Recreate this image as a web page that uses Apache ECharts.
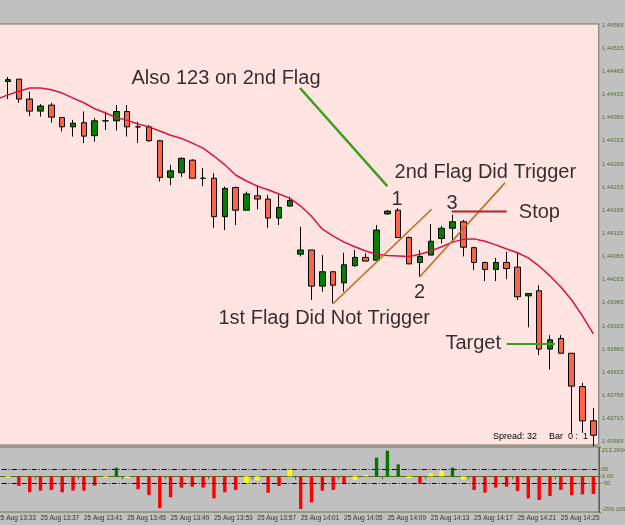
<!DOCTYPE html>
<html>
<head>
<meta charset="utf-8">
<script src="https://cdn.jsdelivr.net/npm/echarts@6/dist/echarts.min.js"></script>
<style>
  html, body { margin: 0; padding: 0; background: #c0c0c0; }
  #chart { width: 625px; height: 525px; }
</style>
</head>
<body>
<div id="chart"></div>
<script>
// 1 minute bars, 25 Aug 13:33 .. 14:28
var times = [
  "25 Aug 13:33", "25 Aug 13:34", "25 Aug 13:35", "25 Aug 13:36", "25 Aug 13:37", "25 Aug 13:38", "25 Aug 13:39", "25 Aug 13:40",
  "25 Aug 13:41", "25 Aug 13:42", "25 Aug 13:43", "25 Aug 13:44", "25 Aug 13:45", "25 Aug 13:46", "25 Aug 13:47", "25 Aug 13:48",
  "25 Aug 13:49", "25 Aug 13:50", "25 Aug 13:51", "25 Aug 13:52", "25 Aug 13:53", "25 Aug 13:54", "25 Aug 13:55", "25 Aug 13:56",
  "25 Aug 13:57", "25 Aug 13:58", "25 Aug 13:59", "25 Aug 14:00", "25 Aug 14:01", "25 Aug 14:02", "25 Aug 14:03", "25 Aug 14:04",
  "25 Aug 14:05", "25 Aug 14:06", "25 Aug 14:07", "25 Aug 14:08", "25 Aug 14:09", "25 Aug 14:10", "25 Aug 14:11", "25 Aug 14:12",
  "25 Aug 14:13", "25 Aug 14:14", "25 Aug 14:15", "25 Aug 14:16", "25 Aug 14:17", "25 Aug 14:18", "25 Aug 14:19", "25 Aug 14:20",
  "25 Aug 14:21", "25 Aug 14:22", "25 Aug 14:23", "25 Aug 14:24", "25 Aug 14:25", "25 Aug 14:26", "25 Aug 14:27", "25 Aug 14:28"
];

var openP = [
  1.44442, 1.44443, 1.44448, 1.44405, 1.44379, 1.44392, 1.44365, 1.44345, 1.44354, 1.44326,
  1.44358, 1.44358, 1.44378, 1.44345, 1.44345, 1.44315, 1.44236, 1.44246, 1.44273, 1.44234,
  1.44234, 1.44151, 1.44214, 1.44165, 1.44196, 1.44189, 1.44148, 1.44174, 1.44070, 1.44079,
  1.44001, 1.44032, 1.44008, 1.44045, 1.44063, 1.44057, 1.44157, 1.44165, 1.44106, 1.44052,
  1.44068, 1.44104, 1.44126, 1.44140, 1.44084, 1.44052, 1.44037, 1.44052, 1.44042, 1.43980,
  1.43991, 1.43865, 1.43888, 1.43856, 1.43784, 1.43710
];
var closeP = [
  1.44479, 1.44447, 1.44405, 1.44379, 1.44390, 1.44366, 1.44345, 1.44353, 1.44325, 1.44358,
  1.44358, 1.44378, 1.44345, 1.44345, 1.44315, 1.44236, 1.44250, 1.44277, 1.44234, 1.44234,
  1.44151, 1.44212, 1.44165, 1.44200, 1.44189, 1.44148, 1.44171, 1.44186, 1.44079, 1.44001,
  1.44032, 1.44003, 1.44047, 1.44063, 1.44055, 1.44122, 1.44163, 1.44106, 1.44049, 1.44065,
  1.44098, 1.44126, 1.44140, 1.44085, 1.44052, 1.44037, 1.44052, 1.44039, 1.43978, 1.43985,
  1.43865, 1.43885, 1.43856, 1.43785, 1.43710, 1.43679
];
var lowP = [
  1.44429, 1.44405, 1.44397, 1.44368, 1.44367, 1.44354, 1.44335, 1.44324, 1.44310, 1.44313,
  1.44338, 1.44337, 1.44324, 1.44310, 1.44313, 1.44227, 1.44219, 1.44237, 1.44234, 1.44217,
  1.44127, 1.44122, 1.44133, 1.44165, 1.44167, 1.44127, 1.44133, 1.44173, 1.44065, 1.43971,
  1.43989, 1.43964, 1.43989, 1.44043, 1.44055, 1.44057, 1.44155, 1.44106, 1.44049, 1.44021,
  1.44068, 1.44093, 1.44097, 1.44065, 1.44036, 1.44012, 1.44012, 1.44016, 1.43971, 1.43912,
  1.43852, 1.43821, 1.43856, 1.43684, 1.43684, 1.43655
];
var highP = [
  1.44489, 1.44453, 1.44448, 1.44421, 1.44394, 1.44397, 1.44366, 1.44360, 1.44378, 1.44364,
  1.44378, 1.44392, 1.44392, 1.44356, 1.44349, 1.44317, 1.44263, 1.44279, 1.44275, 1.44256,
  1.44245, 1.44216, 1.44216, 1.44205, 1.44219, 1.44198, 1.44198, 1.44194, 1.44129, 1.44079,
  1.44068, 1.44032, 1.44073, 1.44079, 1.44072, 1.44133, 1.44165, 1.44169, 1.44108, 1.44079,
  1.44135, 1.44131, 1.44155, 1.44144, 1.44086, 1.44054, 1.44062, 1.44075, 1.44075, 1.43985,
  1.44003, 1.43895, 1.43895, 1.43856, 1.43792, 1.43738
];
// moving average drawn on the price panel
var maP = [
  1.44405, 1.44414, 1.44422, 1.44429, 1.44429, 1.44425, 1.44418, 1.44407, 1.44397, 1.44384,
  1.44375, 1.44365, 1.44359, 1.44351, 1.44345, 1.44336, 1.44327, 1.44320, 1.44310, 1.44299,
  1.44282, 1.44263, 1.44241, 1.44228, 1.44217, 1.44209, 1.44200, 1.44191, 1.44174, 1.44152,
  1.44124, 1.44109, 1.44096, 1.44086, 1.44077, 1.44070, 1.44067, 1.44066, 1.44065, 1.44070,
  1.44077, 1.44086, 1.44096, 1.44102, 1.44103, 1.44098, 1.44090, 1.44081, 1.44073, 1.44062,
  1.44044, 1.44023, 1.43999, 1.43971, 1.43936, 1.43898
];
// oscillator histogram (lower panel)
var oscValues = [
  null, -10, -70, -116, -104, -99, -116, -104, -104, -68,
  -10, 63, -10, -94, -136, -232, -152, -82, -75, -82,
  -160, -116, -99, -47, -29, -119, -70, 46, -237, -189,
  -104, -99, -56, -27, 10, 136, 186, 87, -15, -54,
  22, 39, 63, -24, -99, -119, -82, -75, -106, -160,
  -172, -143, -99, -136, -131, -128
];

var priceTicks = [1.43665, 1.43715, 1.43765, 1.43815, 1.43865, 1.43915, 1.43965, 1.44015, 1.44065,
  1.44115, 1.44165, 1.44215, 1.44265, 1.44315, 1.44365, 1.44415, 1.44465, 1.44515, 1.44565];
var oscTicks = [-259.166, -50, 0, 50, 213.2604];
var oscTickText = ["-259.166", "-50", "0.00", "50", "213.2604"];

// hand drawn objects, [bar index, price]
var alsoLine = [[27.94, 1.44429], [35.99, 1.44217]];
var flag1Line = [[30.98, 1.43963], [40.08, 1.44167]];
var flag2Line = [[38.94, 1.44020], [46.85, 1.44224]];
var stopLine = [[41.93, 1.44162], [47.01, 1.44162]];
var targetLine = [[47.01, 1.43876], [51.46, 1.43876]];
var notesLeft = [
  [12.35, 1.44450, "Also 123 on 2nd Flag"],
  [36.61, 1.44246, "2nd Flag Did Trigger"],
  [20.37, 1.43932, "1st Flag Did Not Trigger"],
  [48.08, 1.44160, "Stop"],
  [41.31, 1.43878, "Target"]
];
var notesCenter = [
  [36.88, 1.44189, "1"],
  [38.96, 1.43988, "2"],
  [41.96, 1.44179, "3"]
];

var axisCol = "#556b2f";
var candles = openP.map(function (o, i) { return [o, closeP[i], lowP[i], highP[i]]; });
var oscRed = oscValues.map(function (v) { return v != null && v < -50 ? v : null; });
var oscGreen = oscValues.map(function (v) { return v != null && v > 50 ? v : null; });
var oscYellow = oscValues.map(function (v) { return v != null && v >= -50 && v <= 50 ? v : null; });

var myChart = echarts.init(document.getElementById("chart"));

function annot(pts, color, width) {
  return {
    type: "line", xAxisIndex: 1, yAxisIndex: 0, data: pts,
    showSymbol: false, z: 5, silent: true,
    lineStyle: { color: color, width: width }
  };
}
function noteSeries(list, pos) {
  return {
    type: "scatter", xAxisIndex: 1, yAxisIndex: 0, z: 6, silent: true,
    symbolSize: 1, itemStyle: { color: "rgba(0,0,0,0)" },
    data: list.map(function (n) { return { value: [n[0], n[1]], name: n[2] }; }),
    label: {
      show: true, position: pos, distance: 0, formatter: "{b}",
      color: "#000", fontSize: 20, fontFamily: "Liberation Sans, Arial, sans-serif"
    }
  };
}

var gridLeft = -8.26, gridRight = 26.22;

myChart.setOption({
  animation: false,
  backgroundColor: "#c0c0c0",
  grid: [
    { left: gridLeft, right: gridRight, top: 24, height: 421, show: true,
      backgroundColor: "#ffe4e1", borderColor: "#70705a", borderWidth: 1, outerBoundsMode: "none" },
    { left: gridLeft, right: gridRight, top: 447, height: 65, show: true,
      backgroundColor: "#c0c0c0", borderColor: "#70705a", borderWidth: 1, outerBoundsMode: "none" }
  ],
  xAxis: [
    { type: "category", gridIndex: 0, data: times, boundaryGap: true, show: false },
    { type: "value", gridIndex: 0, min: -0.5, max: times.length - 0.5, show: false },
    {
      type: "category", gridIndex: 1, data: times, boundaryGap: true,
      axisLine: { show: true, lineStyle: { color: axisCol } },
      axisTick: { show: true, interval: 3, length: 3, lineStyle: { color: axisCol } },
      axisLabel: {
        interval: 3, align: "left", margin: 3, fontSize: 6.5, color: "#333",
        fontFamily: "Liberation Sans, Arial, sans-serif"
      },
      splitLine: { show: false }
    },
    { type: "category", gridIndex: 1, data: times, boundaryGap: true, show: false }
  ],
  yAxis: [
    {
      type: "value", gridIndex: 0, position: "right",
      min: 1.436578, max: 1.4456716, scale: true,
      splitLine: { show: false },
      axisLine: { show: true, lineStyle: { color: axisCol } },
      axisTick: { show: true, length: 2, customValues: priceTicks, lineStyle: { color: axisCol } },
      axisLabel: {
        customValues: priceTicks, margin: 3, fontSize: 6, color: axisCol,
        fontFamily: "Liberation Sans, Arial, sans-serif",
        formatter: function (v) { return v.toFixed(5); }
      }
    },
    {
      type: "value", gridIndex: 1, position: "right",
      min: -259.166, max: 213.2604,
      splitLine: { show: false },
      axisLine: { show: true, lineStyle: { color: axisCol } },
      axisTick: { show: true, length: 2, customValues: oscTicks, lineStyle: { color: axisCol } },
      axisLabel: {
        customValues: oscTicks, margin: 3, fontSize: 6, color: axisCol,
        fontFamily: "Liberation Sans, Arial, sans-serif",
        verticalAlignMaxLabel: "top", verticalAlignMinLabel: "bottom",
        formatter: function (v) {
          var best = 0;
          for (var i = 1; i < oscTicks.length; i++) {
            if (Math.abs(oscTicks[i] - v) < Math.abs(oscTicks[best] - v)) best = i;
          }
          return oscTickText[best];
        }
      }
    }
  ],
  graphic: [
    { type: "text", left: 493, top: 432, silent: true,
      style: { text: "Spread: 32", fill: "#000", fontSize: 9, fontFamily: "Liberation Sans, Arial, sans-serif" } },
    { type: "text", left: 549, top: 432, silent: true,
      style: { text: "Bar  0 :  1", fill: "#000", fontSize: 9, fontFamily: "Liberation Sans, Arial, sans-serif" } }
  ],
  series: [
    {
      type: "candlestick", xAxisIndex: 0, yAxisIndex: 0, data: candles,
      barWidth: 6, z: 2,
      itemStyle: {
        color: "#008000", color0: "#ff6347",
        borderColor: "#000", borderColor0: "#000", borderColorDoji: "#000", borderWidth: 1
      }
    },
    {
      type: "line", xAxisIndex: 0, yAxisIndex: 0, data: maP, z: 3,
      showSymbol: false, silent: true,
      lineStyle: { color: "#dc143c", width: 1.5 }
    },
    annot(alsoLine, "#3c9e1e", 2.5),
    annot(flag1Line, "#c8691e", 1.6),
    annot(flag2Line, "#c8691e", 1.6),
    annot(stopLine, "#b4232d", 2),
    annot(targetLine, "#3c9e1e", 2),
    noteSeries(notesLeft, "right"),
    noteSeries(notesCenter, "inside"),
    {
      type: "bar", xAxisIndex: 2, yAxisIndex: 1, data: oscRed,
      barWidth: 3.4, barGap: "-100%", itemStyle: { color: "#ff0000" },
      markLine: {
        silent: true, symbol: ["none", "none"], label: { show: false },
        lineStyle: { color: "#000", type: [5, 2, 1, 2], width: 1 },
        data: [{ yAxis: 50 }, { yAxis: -50 }]
      }
    },
    {
      type: "bar", xAxisIndex: 2, yAxisIndex: 1, data: oscGreen,
      barWidth: 3.4, barGap: "-100%", itemStyle: { color: "#007800" }
    },
    {
      type: "bar", xAxisIndex: 3, yAxisIndex: 1, data: oscYellow,
      barWidth: 4.6, barMinHeight: 1.5, itemStyle: { color: "#ffff00" }
    }
  ]
});
</script>
</body>
</html>
